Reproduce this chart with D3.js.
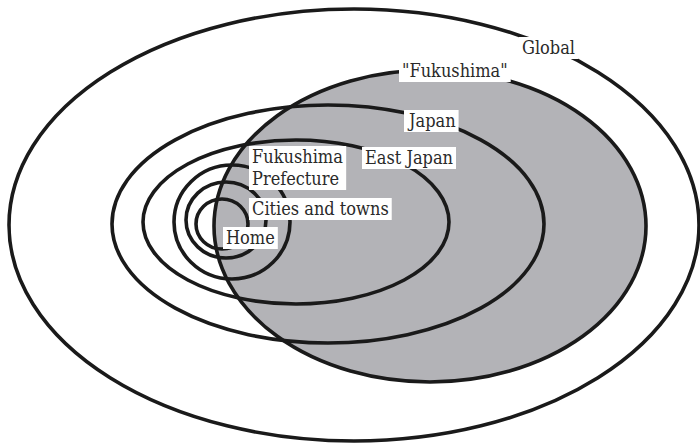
<!DOCTYPE html>
<html>
<head>
<meta charset="utf-8">
<script src="https://cdn.jsdelivr.net/npm/d3@7"></script>
<style>
    html, body { margin: 0; padding: 0; background: #fff; }
    svg { display: block; }
</style>
</head>
<body>
<div id="chart"></div>
<script>
// Ellipses from outermost to innermost, in picture units (700 x 444)
const names = ["Global", "\"Fukushima\"", "Japan", "East Japan", "Fukushima Prefecture", "Cities and towns", "Home"];
const centerX = [354, 430, 328, 296, 232, 226, 222];
const centerY = [225, 226, 224, 222, 222, 220, 224];
const radiusX = [345, 216, 216, 153, 58, 40, 26];
const radiusY = [216, 156, 119, 82, 57, 38, 25];

// Label lines and where their text starts (baseline)
const labelLines = [["Global"], ["\"Fukushima\""], ["Japan"], ["East Japan"], ["Fukushima", "Prefecture"], ["Cities and towns"], ["Home"]];
const labelX = [522, 402, 409, 365, 252, 252, 226];
const labelY = [54, 77, 127, 164, 163, 215, 244];

const width = 700, height = 444;

const x = d3.scaleLinear().domain([0, 700]).range([0, width]);
const y = d3.scaleLinear().domain([0, 444]).range([0, height]);
const r = d3.scaleLinear().domain([0, 700]).range([0, width]);

const svg = d3.select("#chart")
    .append("svg")
    .attr("width", width)
    .attr("height", height);

const rings = names.map((n, i) => ({ name: n, cx: centerX[i], cy: centerY[i], rx: radiusX[i], ry: radiusY[i] }));

// grey fill for the "Fukushima" ellipse
svg.append("ellipse")
    .attr("cx", x(rings[1].cx))
    .attr("cy", y(rings[1].cy))
    .attr("rx", r(rings[1].rx))
    .attr("ry", r(rings[1].ry))
    .attr("fill", "#b3b3b7");

// outlines
svg.selectAll(".ring")
    .data(rings)
    .enter().append("ellipse")
    .attr("class", "ring")
    .attr("cx", d => x(d.cx))
    .attr("cy", d => y(d.cy))
    .attr("rx", d => r(d.rx))
    .attr("ry", d => r(d.ry))
    .attr("fill", "none")
    .attr("stroke", "#1a1a1a")
    .attr("stroke-width", 3.6);

// labels with white boxes
const lineHeight = 22;
labelLines.forEach((lines, i) => {
    const g = svg.append("g");
    const box = g.append("rect").attr("fill", "#fff");
    const t = g.append("text")
        .attr("x", x(labelX[i]))
        .attr("y", y(labelY[i]))
        .style("font-family", "'DejaVu Serif Condensed', 'DejaVu Serif', serif")
        .style("font-stretch", "condensed")
        .style("font-size", "18px")
        .style("fill", "#2a2a2a");
    lines.forEach((l, j) => {
        t.append("tspan")
            .attr("x", x(labelX[i]))
            .attr("dy", j === 0 ? 0 : lineHeight)
            .text(l);
    });
    const bb = t.node().getBBox();
    box.attr("x", bb.x - 3)
        .attr("y", bb.y)
        .attr("width", bb.width + 6)
        .attr("height", bb.height + 1);
});
</script>
</body>
</html>
